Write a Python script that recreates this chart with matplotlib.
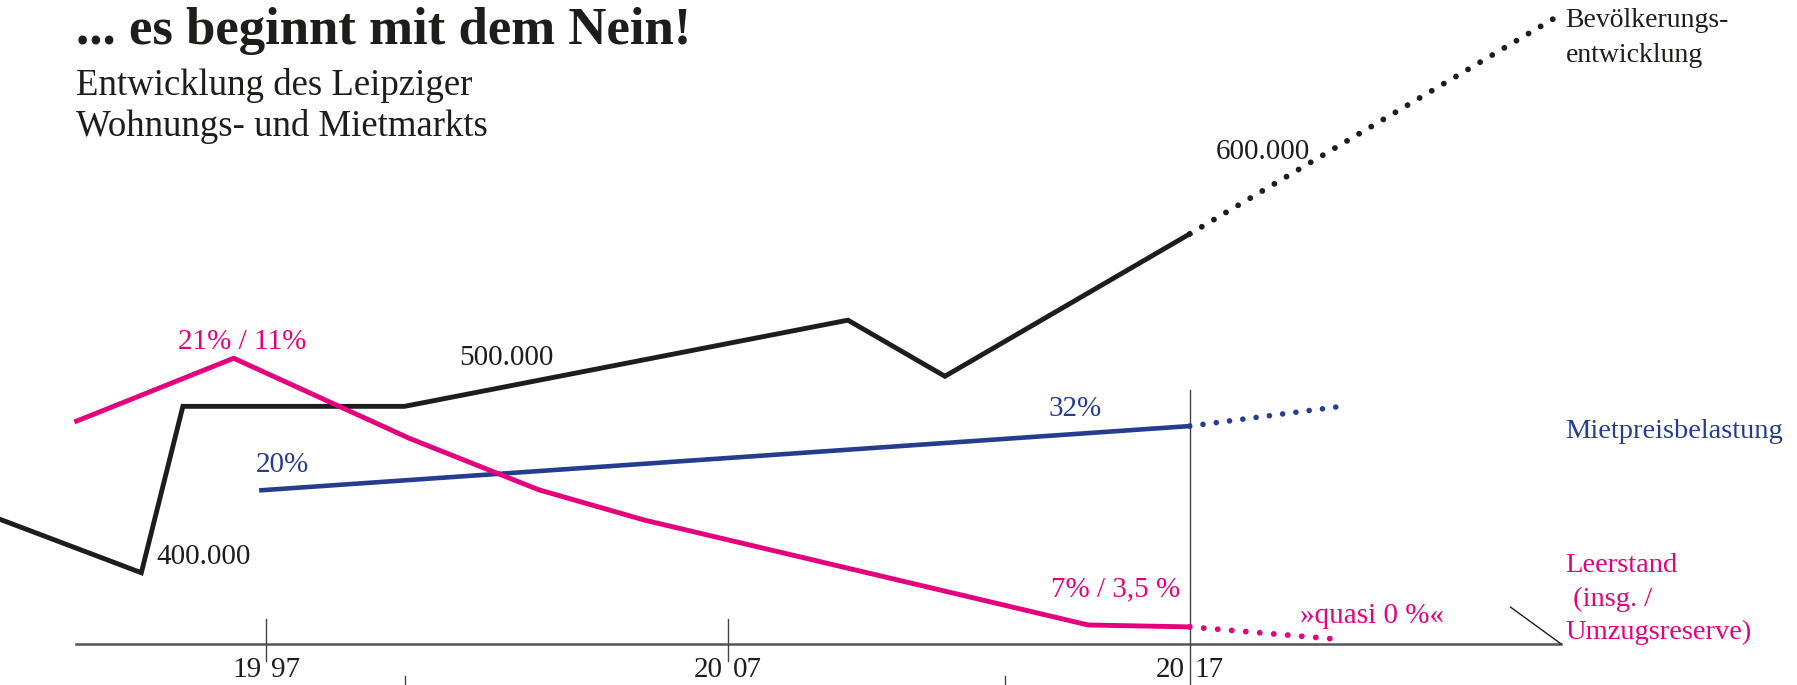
import matplotlib
matplotlib.use('Agg')
import matplotlib.pyplot as plt
import matplotlib.transforms as mtransforms

plt.rcParams['font.family'] = ['Liberation Serif', 'DejaVu Serif']

BLACK = '#1d1d1b'
PINK = '#e5007d'
BLUE = '#253c8f'

# Bevoelkerung (Tsd.)
pop_years = [1991.2, 1994.3, 1995.2, 2000.0, 2009.6, 2011.7, 2017.0]
pop_values = [427, 400, 483, 483, 526, 498, 569]
pop_fc_years = [2017.0, 2025.0]
pop_fc_values = [569, 678]

# Mietpreisbelastung (%)
rent_years = [1996.9, 2017.0]
rent_values = [20, 32]
rent_fc_years = [2017.0, 2020.2]
rent_fc_values = [32, 35.6]

# Leerstand (%)
vac_years = [1992.9, 1996.3, 2000.1, 2002.9, 2005.2, 2014.8, 2017.0]
vac_values = [17.7, 21.0, 16.8, 14.1, 12.5, 7.0, 6.9]
vac_fc_years = [2017.0, 2020.2]
vac_fc_values = [6.9, 6.25]

year_ticks = [1997, 2007, 2017]
minor_ticks = [2000, 2013]

fig = plt.figure(figsize=(17.97, 6.85), dpi=100)
ax = fig.add_axes([0, 0, 1, 1])
ax_r = ax.twinx()
ax_v = ax.twinx()
for a in (ax, ax_r, ax_v):
    a.axis('off')
ax.set_xlim(1991.24, 2030.15)
ax.set_ylim(344.0, 685.7)
ax_r.set_ylim(-16.43, 111.7)
ax_v.set_ylim(3.85, 39.8)

dot = (0, (0.01, 2.4))
ax.plot(pop_years, pop_values, color=BLACK, lw=3.5, solid_joinstyle='miter')
ax.plot(pop_fc_years, pop_fc_values, color=BLACK, lw=4.2, ls=dot, dash_capstyle='round')
ax_r.plot(rent_years, rent_values, color=BLUE, lw=3.3)
ax_r.plot(rent_fc_years, rent_fc_values, color=BLUE, lw=4.0, ls=dot, dash_capstyle='round')
ax_v.plot(vac_years, vac_values, color=PINK, lw=3.5, solid_joinstyle='miter')
ax_v.plot(vac_fc_years, vac_fc_values, color=PINK, lw=4.2, ls=dot, dash_capstyle='round')

# baseline axis + diagonal stroke
ax.plot([0.0421, 0.8686], [0.0602, 0.0602], transform=ax.transAxes, color='#555555', lw=1.8)
ax.plot([0.8686, 0.8406], [0.0602, 0.1137], transform=ax.transAxes, color=BLACK, lw=1.0)
trans = mtransforms.blended_transform_factory(ax.transData, ax.transAxes)
for yr in year_ticks:
    top = 0.431 if yr == 2017 else 0.097
    ax.plot([yr, yr], [0.0 if yr == 2017 else 0.035, top], transform=trans, color='#444444', lw=1.0)
    s = str(yr)
    ax.text(yr - 0.1, 0.022, s[:2], transform=trans, ha='right', va='center', fontsize=21, color=BLACK)
    ax.text(yr + 0.1, 0.022, s[2:], transform=trans, ha='left', va='center', fontsize=21, color=BLACK)
for yr in minor_ticks:
    ax.plot([yr, yr], [0.0, 0.013], transform=trans, color='#444444', lw=1.0)

lab = dict(textcoords='offset points', fontsize=21)
ax.annotate('400.000', (pop_years[1], pop_values[1]), xytext=(11, 11), ha='left', va='center', color=BLACK, **lab)
ax.annotate('500.000', (pop_years[3], pop_values[3]), xytext=(39, 35), ha='left', va='center', color=BLACK, **lab)
ax.annotate('600.000', (pop_years[-1], pop_values[-1]), xytext=(19, 59), ha='left', va='center', color=BLACK, **lab)
ax_v.annotate('21% / 11%', (vac_years[1], vac_values[1]), xytext=(6, 12), ha='center', va='center', color=PINK, **lab)
ax_v.annotate('7% / 3,5 %', (vac_years[-1], vac_values[-1]), xytext=(-7, 27), ha='right', va='center', color=PINK, **lab)
ax_v.annotate('»quasi 0 %«', (vac_fc_years[-1], vac_fc_values[-1]), xytext=(-27, 17), ha='left', va='center', color=PINK, **lab)
ax_r.annotate('20%', (rent_years[0], rent_values[0]), xytext=(-4, 18), ha='left', va='center', color=BLUE, **lab)
ax_r.annotate('32%', (rent_years[-1], rent_values[-1]), xytext=(-63, 12), ha='right', va='center', color=BLUE, **lab)

fig.text(0.8712, 1 - 33 / 598, 'Bevölkerungs-\nentwicklung', ha='left', va='center', fontsize=20,
         color=BLACK, linespacing=1.5)
fig.text(0.8712, 1 - 377 / 598, 'Mietpreisbelastung', ha='left', va='center', fontsize=20.5, color=BLUE)
fig.text(0.8712, 1 - 523 / 598, 'Leerstand\n (insg. /\nUmzugsreserve)', ha='left', va='center',
         fontsize=20.5, color=PINK, linespacing=1.45)

fig.text(0.0421, 0.936, '... es beginnt mit dem Nein!', ha='left', va='baseline', fontsize=38,
         fontweight='bold', color=BLACK)
fig.text(0.0421, 0.862, 'Entwicklung des Leipziger', ha='left', va='baseline', fontsize=26.5, color=BLACK)
fig.text(0.0421, 0.801, 'Wohnungs- und Mietmarkts', ha='left', va='baseline', fontsize=26.5, color=BLACK)

fig.savefig('out.png', dpi=100)
